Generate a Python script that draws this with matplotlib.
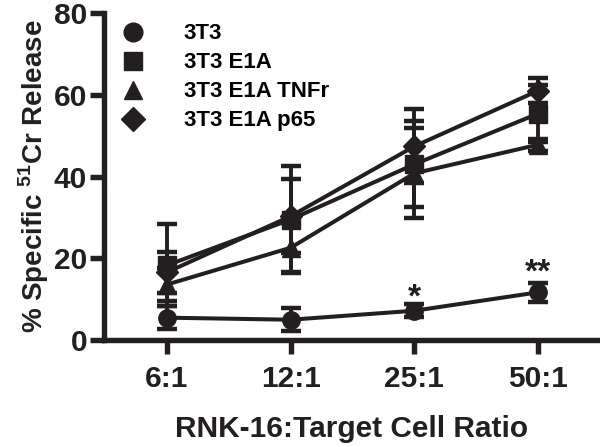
import matplotlib.pyplot as plt
from matplotlib.lines import Line2D
import numpy as np

plt.rcParams['font.family'] = ['Liberation Sans', 'DejaVu Sans']
plt.rcParams['font.weight'] = 'bold'
plt.rcParams['mathtext.fontset'] = 'custom'
plt.rcParams['mathtext.rm'] = 'Liberation Sans:bold'
plt.rcParams['mathtext.bf'] = 'Liberation Sans:bold'

ink = '#231f20'

# Data
ratios = ['6:1', '12:1', '25:1', '50:1']
names = ['3T3', '3T3 E1A', '3T3 E1A TNFr', '3T3 E1A p65']
markers = ['o', 's', '^', 'D']

mean_3t3 = [5.5, 5.0, 7.2, 11.7]
err_3t3 = [2.8, 2.8, 1.6, 2.3]
mean_e1a = [18.3, 29.5, 43.0, 55.4]
err_e1a = [10.0, 13.0, 10.5, 7.0]
mean_tnfr = [13.6, 22.6, 40.8, 47.8]
err_tnfr = [4.0, 6.0, 11.0, 1.5]
mean_p65 = [16.6, 30.3, 47.4, 61.0]
err_p65 = [5.0, 9.0, 9.0, 3.0]

means = [mean_3t3, mean_e1a, mean_tnfr, mean_p65]
errs = [err_3t3, err_e1a, err_tnfr, err_p65]

stars = ['', '', '*', '**']
star_y = [0, 0, 6.5, 12.5]

fig = plt.figure(figsize=(6, 4.47), dpi=100)
ax = fig.add_axes([0.173, 0.239, 0.827, 0.732])

x = np.arange(1, len(ratios) + 1)
for m, e, mk in zip(means, errs, markers):
    ms = 11 if mk == 'D' else 12.5
    ax.errorbar(x, m, yerr=e, color=ink, marker=mk, markersize=ms,
                linewidth=2.9, elinewidth=2.8, capsize=7.5, capthick=3.2,
                clip_on=False)

for xi, s, sy in zip(x, stars, star_y):
    if s:
        ax.text(xi, sy, s, ha='center', va='bottom', fontsize=24,
                color=ink, fontweight='bold')

ax.set_xlim(0.49, 4.5)
ax.set_ylim(0, 80)
ax.set_yticks([0, 20, 40, 60, 80])
ax.set_xticks(x)
ax.set_xticklabels(ratios)

for side in ['top', 'right']:
    ax.spines[side].set_visible(False)
for side in ['left', 'bottom']:
    ax.spines[side].set_linewidth(3.9)
    ax.spines[side].set_color(ink)

ax.tick_params(axis='both', width=3.9, length=10, color=ink,
               labelsize=21.5, labelcolor=ink)
ax.tick_params(axis='x', pad=8)
ax.tick_params(axis='y', pad=2)

ax.set_ylabel('% Specific $^{51}$Cr Release', fontsize=20,
              fontweight='bold', color=ink, labelpad=2)
ax.set_xlabel('RNK-16:Target Cell Ratio', fontsize=21.5,
              fontweight='bold', color=ink, labelpad=16)

handles = []
for mk, nm in zip(markers, names):
    ms = 12 if mk == 'D' else 13.5
    handles.append(Line2D([], [], linestyle='none', marker=mk,
                          markersize=ms, color=ink, label=nm))
ax.legend(handles=handles, loc='upper left', frameon=False,
          handlelength=1.0, handletextpad=1.8, borderpad=0.0,
          labelspacing=0.36, borderaxespad=0.0,
          bbox_to_anchor=(0.036, 0.968), prop={'weight': 'bold', 'size': 16})

fig.savefig('out.png', dpi=100)
